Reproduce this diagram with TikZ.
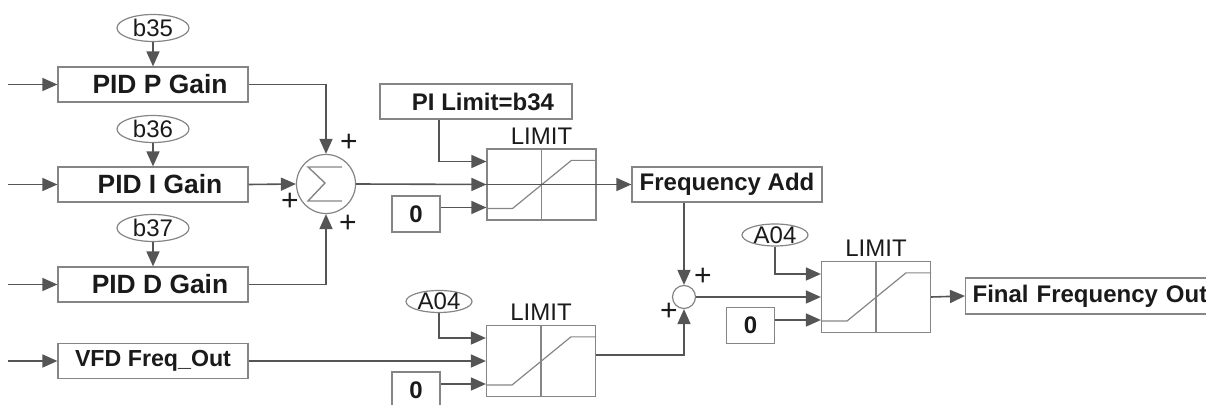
\documentclass[tikz,border=0pt]{standalone}
\usepackage{fontspec}
\setmainfont{Liberation Sans}
\usetikzlibrary{arrows.meta,positioning,calc,shapes.geometric}
\definecolor{linegray}{HTML}{555555}
\definecolor{boxgray}{HTML}{858585}
\definecolor{inkgray}{HTML}{1A1A1A}
% limiter block: name, centre
\newcommand{\limiter}[2]{%
\node[limbox] (#1) at (#2) {};
\draw[limline] (#1.north)--(#1.south);
\draw[limline] ($(#1.south west)+(0,-12)$)--++(26,0)--($(#1.north west)+(85,12)$)--($(#1.north east)+(0,12)$);
\node[lbl,anchor=base] (#1-lbl) at ($(#1.north)+(0,-4)$) {LIMIT};
\coordinate (#1-hi) at ($(#1.west)+(0,-23)$);
\coordinate (#1-mid) at (#1.west);
\coordinate (#1-lo) at ($(#1.west)+(0,23)$);}

\begin{document}
\begin{tikzpicture}[x=0.5pt,y=-0.5pt,
gain/.style={draw=boxgray,line width=0.6pt,minimum width=95pt,minimum height=17.5pt,inner sep=0pt,font=\fontsize{13.2}{15}\selectfont\bfseries,text=inkgray},
tag/.style={draw=boxgray,line width=0.6pt,minimum height=17.5pt,inner sep=0pt,font=\fontsize{12}{14}\selectfont\bfseries,text=inkgray},
param/.style={ellipse,draw=boxgray,line width=0.6pt,inner xsep=0pt,inner ysep=-2pt,font=\fontsize{12}{14}\selectfont,text=inkgray},
limbox/.style={draw=boxgray,line width=0.6pt,minimum width=54.5pt,minimum height=35.5pt,inner sep=0pt},
limline/.style={draw=boxgray,line width=0.6pt},
lbl/.style={inner sep=0pt,font=\fontsize{12}{14}\selectfont,text=inkgray},
sgn/.style={inner sep=0pt,font=\fontsize{15}{17}\selectfont,text=inkgray},
sumc/.style={circle,draw=boxgray,line width=0.6pt,inner sep=0pt},
wire/.style={draw=linegray,line width=0.8pt},
arr/.style={wire,-{Triangle[length=7.5pt,width=6.5pt]}}]
\path[use as bounding box] (0,0) rectangle (1206,405);
\clip (0,0) rectangle (1206,405);
% PID gains
\node[param,minimum width=36pt,minimum height=13.5pt] (B35) at (153,28) {b35};
\node[gain] (GP) at (153,84.5) {\hskip7pt PID P Gain};
\node[param,minimum width=36pt,minimum height=13.5pt] (B36) at (153,129) {b36};
\node[gain] (GI) at (153,184.5) {\hskip7pt PID I Gain};
\node[param,minimum width=36pt,minimum height=13.5pt] (B37) at (153,228) {b37};
\node[gain] (GD) at (153,284.5) {\hskip7pt PID D Gain};
\node[gain,font=\fontsize{11.6}{14}\selectfont\bfseries] (VF) at (153,361) {VFD Freq\_Out};
\foreach \n in {GP,GI,GD,VF}{\coordinate (\n-in) at ($(\n.west)+(-49,0)$);\draw[arr] (\n-in)--(\n.west);}
\draw[arr](B35)--(GP);\draw[arr](B36)--(GI);\draw[arr](B37)--(GD);
% summing point
\node[sumc,minimum size=29.5pt] (S) at (326,184) {};
\draw[limline,line width=0.7pt] ($(S.center)+(16,-17)$)--++(-34,0)--++(17,16)--++(-17,18)--++(34,0);
\node[sgn] (S-p1) at (349,143) {+};
\node[sgn] (S-p2) at (290,202) {+};
\node[sgn] (S-p3) at (348,224) {+};
\draw[arr](GP.east)-|(S.north);\draw[arr](GI.east)--(S.west);\draw[arr](GD.east)-|(S.south);
% first limiter
\node[tag,minimum width=96pt] (PL) at (476,101.5) {\hskip7pt PI Limit=b34};
\limiter{L1}{541.5,184.5}
\node[tag,minimum width=24pt,minimum height=18pt] (Z1) at (416,214) {0};
\draw[arr](S.east)--(L1-mid);\draw[wire](L1.west)--(L1.east);
\draw[arr]($(PL.south)+(-37,0)$)|-(L1-hi);
\draw[arr](Z1.east|-L1-lo)--(L1-lo);
\node[tag,minimum width=95pt] (FA) at (727,184.5) {Frequency Add};
\draw[arr](L1.east)--(FA.west);
% second limiter
\node[param,minimum width=33pt,minimum height=11pt] (A1) at (439,301.5) {A04};
\limiter{L2}{541,361}
\node[tag,minimum width=24pt,minimum height=18pt] (Z2) at (416,390) {0};
\draw[arr](VF.east)--(L2-mid);\draw[arr](A1.south)|-(L2-hi);\draw[arr](Z2.east|-L2-lo)--(L2-lo);
% adder and last limiter
\node[sumc,minimum size=11.5pt] (C) at (684,297) {};
\node[sgn] (C-p1) at (703,277) {+};
\node[sgn] (C-p2) at (669,312) {+};
\draw[arr](FA.south-|C.north)--(C.north);
\draw[arr]($(L2.east)+(0,-6)$)-|(C.south);
\node[param,minimum width=33pt,minimum height=11pt] (A2) at (775,235) {A04};
\limiter{L3}{876,297}
\node[tag,minimum width=24pt,minimum height=18pt] (Z3) at (750.5,325.5) {0};
\draw[arr](C.east)--(L3-mid);\draw[arr](A2.south)|-(L3-hi);\draw[arr](Z3.east|-L3-lo)--(L3-lo);
\node[tag,anchor=west,text width=125pt,inner xsep=3.5pt,align=left,minimum height=18pt] (FO) at (965,296) {Final Frequency Out};
\draw[arr](L3.east)--(FO.west);
\end{tikzpicture}
\end{document}
